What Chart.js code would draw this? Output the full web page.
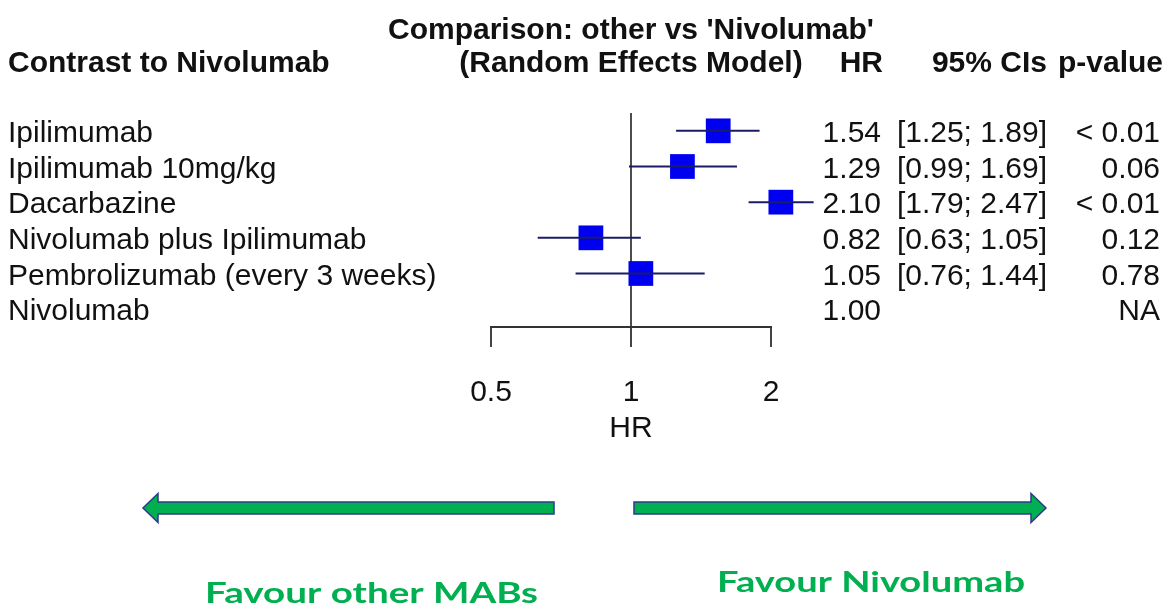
<!DOCTYPE html>
<html lang="en">
<head>
    <meta charset="UTF-8">
    <title>Contrast to Nivolumab - forest plot</title>
    <script src="https://cdn.jsdelivr.net/npm/chart.js"></script>
    <style>
        body { margin: 0; background: #fff; }
        #wrap { position: relative; width: 1170px; height: 610px; }
    </style>
</head>
<body>
<div id="wrap"><canvas id="forestChart"></canvas></div>
<script>
    // Data
    const treatments = ["Ipilimumab", "Ipilimumab 10mg/kg", "Dacarbazine", "Nivolumab plus Ipilimumab", "Pembrolizumab (every 3 weeks)", "Nivolumab"];
    const hr = [1.54, 1.29, 2.10, 0.82, 1.05, 1.00];
    const ciLower = [1.25, 0.99, 1.79, 0.63, 0.76, null];
    const ciUpper = [1.89, 1.69, 2.47, 1.05, 1.44, null];
    const pValues = ["< 0.01", "0.06", "< 0.01", "0.12", "0.78", "NA"];
    const xTicks = [0.5, 1, 2];

    const SANS = '"Liberation Sans", Arial, sans-serif';
    Chart.defaults.font.family = SANS;
    Chart.defaults.color = "#111";

    // one line per row for the confidence interval
    const ciSets = treatments.map((t, i) => ({
        label: t,
        type: "line",
        data: ciLower[i] == null ? [] : [{ x: ciLower[i], y: i }, { x: ciUpper[i], y: i }],
        borderColor: "#1c1c66",
        borderWidth: 2,
        pointRadius: 0,
        clip: false,
        order: 1
    }));

    const squareSet = {
        label: "HR",
        data: treatments.map((t, i) => ({ x: hr[i], y: i })).filter((p, i) => ciLower[i] != null),
        pointStyle: "rect",
        pointRadius: 17.5,
        backgroundColor: "#0000f0",
        borderWidth: 0,
        clip: false,
        order: 2
    };

    function drawArrow(ctx, xTail, xTip, yc) {
        const dir = Math.sign(xTip - xTail);
        const xBack = xTip - dir * 15;
        ctx.beginPath();
        ctx.moveTo(xTail, yc - 6);
        ctx.lineTo(xBack, yc - 6);
        ctx.lineTo(xBack, yc - 14.5);
        ctx.lineTo(xTip, yc);
        ctx.lineTo(xBack, yc + 14.5);
        ctx.lineTo(xBack, yc + 6);
        ctx.lineTo(xTail, yc + 6);
        ctx.closePath();
        ctx.fillStyle = "#00b050";
        ctx.fill();
        ctx.strokeStyle = "#2e3a8c";
        ctx.lineWidth = 1.5;
        ctx.stroke();
    }

    // squeeze or stretch a label to the width it has in the figure
    function fitText(ctx, text, x, y, w) {
        const m = ctx.measureText(text).width;
        ctx.save();
        ctx.translate(x, y);
        ctx.scale(w / m, 1);
        ctx.textAlign = "left";
        ctx.fillText(text, 0, 0);
        ctx.restore();
    }

    const forestText = {
        id: "forestText",
        afterDraw(chart) {
            const ctx = chart.ctx;
            const yScale = chart.scales.y;
            const xRef = chart.scales.x.getPixelForValue(1);
            ctx.save();
            ctx.fillStyle = "#111";
            ctx.textBaseline = "alphabetic";

            // header
            ctx.font = "bold 30px " + SANS;
            ctx.textAlign = "center";
            ctx.fillText("Comparison: other vs 'Nivolumab'", xRef, 39);
            ctx.fillText("(Random Effects Model)", xRef, 72);
            ctx.textAlign = "left";
            ctx.fillText("Contrast to Nivolumab", 8, 72);
            ctx.textAlign = "right";
            ctx.fillText("HR", 883, 72);
            ctx.fillText("95% CIs", 1047, 72);
            ctx.fillText("p-value", 1163, 72);

            // rows
            ctx.font = "30px " + SANS;
            treatments.forEach((t, i) => {
                const yy = yScale.getPixelForValue(i) + 11;
                ctx.textAlign = "left";
                ctx.fillText(t, 8, yy);
                ctx.textAlign = "right";
                ctx.fillText(hr[i].toFixed(2), 881, yy);
                if (ciLower[i] != null) {
                    ctx.fillText("[" + ciLower[i].toFixed(2) + "; " + ciUpper[i].toFixed(2) + "]", 1047, yy);
                }
                ctx.fillText(pValues[i], 1160, yy);
            });

            // favour arrows
            drawArrow(ctx, 554, 143, 508);
            drawArrow(ctx, 634, 1046, 508);

            ctx.fillStyle = "#00b050";
            ctx.font = 'bold 29px "Liberation Sans Narrow", Lato, ' + SANS;
            fitText(ctx, "Favour other MABs", 205, 603, 333);
            fitText(ctx, "Favour Nivolumab", 717, 592, 308);
            ctx.restore();
        }
    };

    new Chart(document.getElementById("forestChart").getContext("2d"), {
        type: "scatter",
        data: { datasets: [squareSet, ...ciSets] },
        options: {
            responsive: true,
            maintainAspectRatio: false,
            animation: false,
            layout: { padding: { top: 113, left: 491, right: 399, bottom: 163 } },
            plugins: { legend: { display: false }, tooltip: { enabled: false } },
            scales: {
                x: {
                    type: "logarithmic",
                    min: 0.5,
                    max: 2,
                    afterBuildTicks: s => { s.ticks = xTicks.map(v => ({ value: v })); },
                    afterFit: s => { s.height = 120; },
                    border: { display: true, color: "#333", width: 2 },
                    grid: {
                        color: c => (c.tick && c.tick.value === 1 ? "#4d4d4d" : "rgba(0,0,0,0)"),
                        tickColor: "#444",
                        tickLength: 20,
                        lineWidth: 2
                    },
                    ticks: {
                        color: "#111",
                        font: { size: 30 },
                        padding: 28,
                        autoSkip: false,
                        maxRotation: 0,
                        callback: v => String(v)
                    },
                    title: { display: true, text: "HR", color: "#111", font: { size: 30 }, padding: { top: 0, bottom: 0 } }
                },
                y: { type: "linear", min: -0.5, max: 5.5, reverse: true, display: false }
            }
        },
        plugins: [forestText]
    });
</script>
</body>
</html>
